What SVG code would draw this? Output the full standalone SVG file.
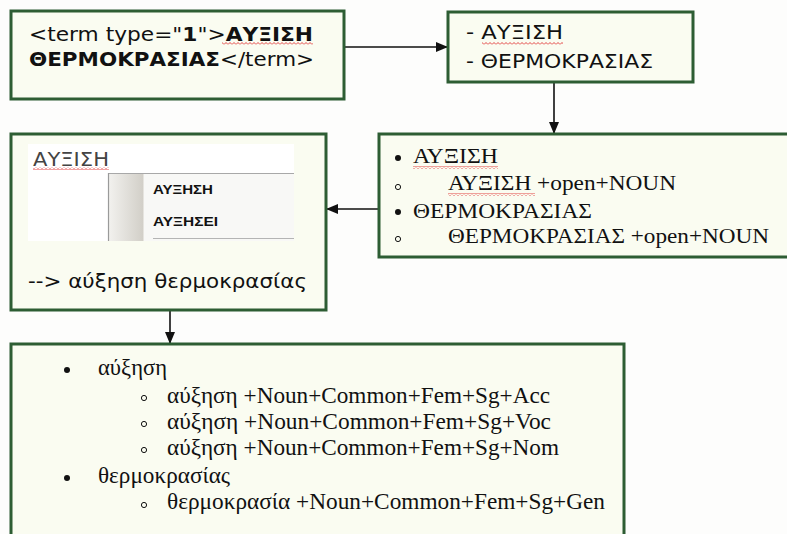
<svg xmlns="http://www.w3.org/2000/svg" width="787" height="534" viewBox="0 0 787 534">
<style>
.box{fill:#fafcf1;stroke:#2d5d33;stroke-width:3}
.sans{font-family:"DejaVu Sans","Liberation Sans",sans-serif;font-size:19px;fill:#111}
.serif{font-family:"Liberation Serif","Times New Roman",serif;font-size:22px;fill:#111}
.serif5{font-family:"Liberation Serif","Times New Roman",serif;font-size:23px;fill:#111}
.b{font-weight:bold}
.conn{stroke:#111;stroke-width:1.6;fill:none;marker-end:url(#arr)}
.menu{font-family:"Liberation Sans",Arial,sans-serif;font-size:12.5px;font-weight:bold;fill:#111}
</style>
<defs>
<marker id="arr" markerWidth="12" markerHeight="10" refX="11" refY="5" orient="auto" markerUnits="userSpaceOnUse">
<path d="M0,0 L12,5 L0,10 z" fill="#111"/>
</marker>
<pattern id="wave" width="4" height="3" patternUnits="userSpaceOnUse">
<path d="M0,2.5 L2,0.5 L4,2.5" stroke="#e03030" stroke-width="0.9" fill="none"/>
</pattern>
<linearGradient id="strip" x1="0" y1="0" x2="1" y2="0">
<stop offset="0" stop-color="#f2f1ee"/>
<stop offset="1" stop-color="#d2cfc8"/>
</linearGradient>
</defs>
<rect width="787" height="534" fill="#fdfdfc"/>

<g id="connectors">
<line class="conn" x1="344" y1="47" x2="447" y2="47"/>
<line class="conn" x1="554" y1="82" x2="554" y2="133"/>
<line class="conn" x1="379" y1="209" x2="327" y2="209"/>
<line class="conn" x1="170" y1="310" x2="170" y2="343"/>
</g>

<g id="n1">
<rect class="box" x="11" y="11" width="333" height="88"/>
<text class="sans" x="29" y="41" textLength="284" lengthAdjust="spacingAndGlyphs">&lt;term type="<tspan class="b">1</tspan>"&gt;<tspan class="b">ΑΥΞΙΣΗ</tspan></text>
<text class="sans" x="29" y="66" textLength="285" lengthAdjust="spacingAndGlyphs"><tspan class="b">ΘΕΡΜΟΚΡΑΣΙΑΣ</tspan>&lt;/term&gt;</text>
<rect x="222" y="42" width="91" height="3" fill="url(#wave)"/>
</g>

<g id="n2">
<rect class="box" x="448" y="12" width="245" height="70"/>
<text class="sans" x="466" y="39" textLength="97" lengthAdjust="spacingAndGlyphs">- ΑΥΞΙΣΗ</text>
<text class="sans" x="466" y="68" textLength="187" lengthAdjust="spacingAndGlyphs">- ΘΕΡΜΟΚΡΑΣΙΑΣ</text>
<rect x="482" y="42" width="81" height="3" fill="url(#wave)"/>
</g>

<g id="n3">
<rect class="box" x="379" y="134" width="420" height="123"/>
<circle cx="398" cy="158" r="3" fill="#111"/>
<text class="serif" x="413" y="163" textLength="85" lengthAdjust="spacingAndGlyphs">ΑΥΞΙΣΗ</text>
<rect x="413" y="166" width="85" height="3" fill="url(#wave)"/>
<circle cx="398" cy="187" r="2.6" fill="none" stroke="#111" stroke-width="1"/>
<text class="serif" x="448" y="190" textLength="228" lengthAdjust="spacingAndGlyphs">ΑΥΞΙΣΗ +open+NOUN</text>
<rect x="448" y="193" width="87" height="3" fill="url(#wave)"/>
<circle cx="398" cy="212" r="3" fill="#111"/>
<text class="serif" x="413" y="218" textLength="179" lengthAdjust="spacingAndGlyphs">ΘΕΡΜΟΚΡΑΣΙΑΣ</text>
<circle cx="398" cy="239" r="2.6" fill="none" stroke="#111" stroke-width="1"/>
<text class="serif" x="448" y="243" textLength="321" lengthAdjust="spacingAndGlyphs">ΘΕΡΜΟΚΡΑΣΙΑΣ +open+NOUN</text>
</g>

<g id="n4">
<rect class="box" x="11" y="134" width="315" height="176"/>
<rect x="28" y="144" width="266" height="97" fill="#ffffff"/>
<text class="sans" x="33" y="166" fill="#444" style="fill:#444" textLength="76" lengthAdjust="spacingAndGlyphs">ΑΥΞΙΣΗ</text>
<rect x="33" y="167" width="76" height="3" fill="url(#wave)"/>
<rect x="108" y="173" width="186" height="68" fill="#f8f8f6"/>
<rect x="109" y="174" width="34" height="67" fill="url(#strip)"/>
<line x1="108" y1="173.5" x2="294" y2="173.5" stroke="#a8a8a8" stroke-width="1.2"/>
<line x1="108.5" y1="173" x2="108.5" y2="241" stroke="#9a9a9a" stroke-width="1.2"/>
<line x1="143.5" y1="174" x2="143.5" y2="241" stroke="#e6e4df" stroke-width="1"/>
<line x1="153" y1="238.5" x2="294" y2="238.5" stroke="#b4b4b4" stroke-width="1.2"/>
<text class="menu" x="153" y="194" textLength="60" lengthAdjust="spacingAndGlyphs">ΑΥΞΗΣΗ</text>
<text class="menu" x="153" y="226" textLength="65" lengthAdjust="spacingAndGlyphs">ΑΥΞΗΣΕΙ</text>
<text class="sans" x="28" y="288" textLength="279" lengthAdjust="spacingAndGlyphs">--&gt; αύξηση θερμοκρασίας</text>
</g>

<g id="n5">
<rect class="box" x="11" y="344" width="613" height="210"/>
<circle cx="67" cy="370" r="3" fill="#111"/>
<text class="serif5" x="98" y="375" textLength="69" lengthAdjust="spacingAndGlyphs">αύξηση</text>
<circle cx="144" cy="398" r="2.6" fill="none" stroke="#111" stroke-width="1"/>
<text class="serif5" x="167" y="403" textLength="383" lengthAdjust="spacingAndGlyphs">αύξηση +Noun+Common+Fem+Sg+Acc</text>
<circle cx="144" cy="424" r="2.6" fill="none" stroke="#111" stroke-width="1"/>
<text class="serif5" x="167" y="429" textLength="384" lengthAdjust="spacingAndGlyphs">αύξηση +Noun+Common+Fem+Sg+Voc</text>
<circle cx="144" cy="450" r="2.6" fill="none" stroke="#111" stroke-width="1"/>
<text class="serif5" x="167" y="455" textLength="392" lengthAdjust="spacingAndGlyphs">αύξηση +Noun+Common+Fem+Sg+Nom</text>
<circle cx="67" cy="478" r="3" fill="#111"/>
<text class="serif5" x="98" y="483" textLength="132" lengthAdjust="spacingAndGlyphs">θερμοκρασίας</text>
<circle cx="144" cy="505" r="2.6" fill="none" stroke="#111" stroke-width="1"/>
<text class="serif5" x="167" y="509" textLength="438" lengthAdjust="spacingAndGlyphs">θερμοκρασία +Noun+Common+Fem+Sg+Gen</text>
</g>
</svg>
